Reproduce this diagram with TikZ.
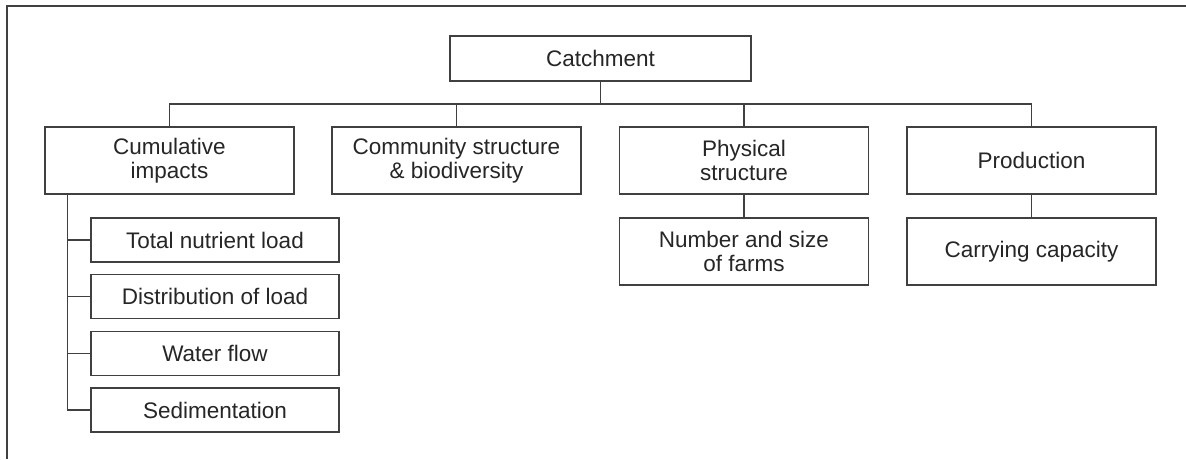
\documentclass[tikz,border=0pt]{standalone}
\usepackage{fontspec}
\setmainfont{Liberation Sans}
\begin{document}
\begin{tikzpicture}[x=1pt,y=-1pt,
  line/.style={draw=black!75,line width=1.3pt},
  box/.style={line,fill=white,align=center,inner sep=0pt,
    font=\fontsize{22.5}{24.5}\selectfont,text=black!85},
  topbox/.style={box,minimum width=249pt,minimum height=67pt},
  subbox/.style={box,minimum width=248pt,minimum height=44pt}]
\useasboundingbox (0,0) rectangle (1186,459);
% open frame
\draw[line,line width=1.8pt] (7,459) -- (7,6) -- (1186,6);
% root
\node[box,minimum width=301pt,minimum height=45pt] (cat) at (600.5,58.5) {Catchment};
% first level
\node[topbox] (cum)  at (169.5,160.5) {Cumulative\\impacts};
\node[topbox] (comm) at (456.5,160.5) {Community structure\\\& biodiversity};
\node[topbox] (phys) at (744,160.5)   {Physical\\structure};
\node[topbox] (prod) at (1031.5,160.5) {Production};
% second level
\node[subbox] (tot) at (215,240)   {Total nutrient load};
\node[subbox] (dist) at (215,296.5) {Distribution of load};
\node[subbox] (wat) at (215,353.5) {Water flow};
\node[subbox] (sed) at (215,410)   {Sedimentation};
\node[topbox] (farm) at (744,251.5)   {Number and size\\of farms};
\node[topbox] (cap)  at (1031.5,251.5) {Carrying capacity};
% connectors
\coordinate (bus) at (600.5,104);
\coordinate (stem) at ([xshift=23pt]cum.south west);
\draw[line] (cat.south) -- (bus);
\draw[line] (cum.north) |- (bus) -| (prod.north);
\draw[line] (comm.north) -- (comm.north |- bus);
\draw[line] (phys.north) -- (phys.north |- bus);
\draw[line] (stem) |- (sed.west);
\draw[line] (stem |- tot.west) -- (tot.west);
\draw[line] (stem |- dist.west) -- (dist.west);
\draw[line] (stem |- wat.west) -- (wat.west);
\draw[line] (phys.south) -- (farm.north);
\draw[line] (prod.south) -- (cap.north);
\end{tikzpicture}
\end{document}
